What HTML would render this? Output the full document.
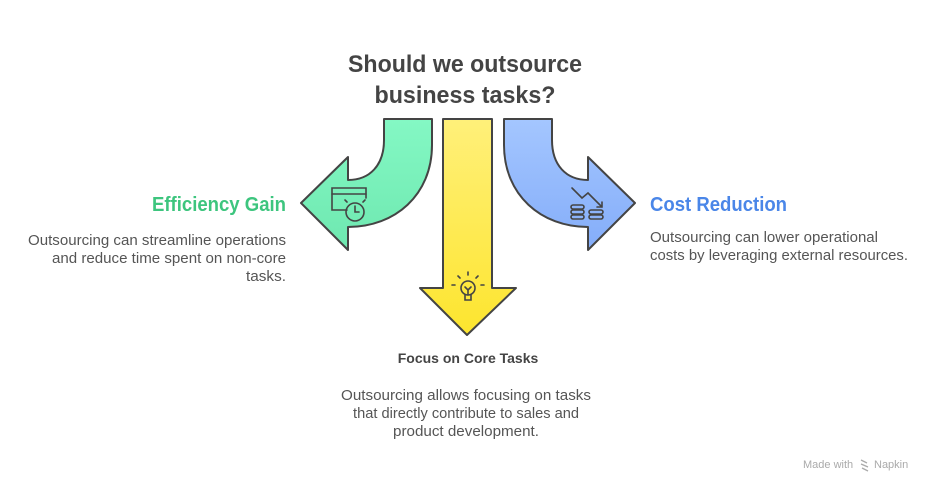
<!DOCTYPE html>
<html><head><meta charset="utf-8"><style>
html,body{margin:0;padding:0;background:#fff;}
svg{display:block;font-family:"Liberation Sans",sans-serif;}
</style></head><body>
<svg width="936" height="492" viewBox="0 0 936 492" xmlns="http://www.w3.org/2000/svg">
<defs>
<linearGradient id="g" x1="0" y1="0" x2="0" y2="1"><stop offset="0" stop-color="#84f8c4"/><stop offset="1" stop-color="#6ee8b0"/></linearGradient>
<linearGradient id="y" x1="0" y1="0" x2="0" y2="1"><stop offset="0" stop-color="#fff07a"/><stop offset="1" stop-color="#fde52e"/></linearGradient>
<linearGradient id="b" x1="0" y1="0" x2="0" y2="1"><stop offset="0" stop-color="#a4c6ff"/><stop offset="1" stop-color="#84adf9"/></linearGradient>
</defs>
<g stroke="#444" stroke-width="2" stroke-linejoin="round">
<path fill="url(#g)" d="M384,119 L432,119 L432,145 C432,195 395,227 348,227 L348,250 L301,203 L348,157 L348,180 C370,180 384,165 384,140 Z"/>
<path fill="url(#y)" d="M443,119 L492,119 L492,288 L516,288 L467,335 L420,288 L443,288 Z"/>
<path fill="url(#b)" d="M552,119 L504,119 L504,145 C504,195 541,227 588,227 L588,250 L635,203 L588,157 L588,180 C566,180 552,165 552,140 Z"/>
</g>
<g fill="none" stroke="#444" stroke-width="1.6" stroke-linecap="round">
<!-- clock window icon -->
<path d="M347,210 h-15 v-22 h34 v10"/><line x1="332" y1="194" x2="366" y2="194"/>
<circle cx="355" cy="212" r="9"/><path d="M355,206 v6 h4"/>
<line x1="345" y1="200" x2="347" y2="202"/><line x1="365" y1="200" x2="363" y2="202"/>
<!-- bulb -->
<circle cx="468" cy="288" r="7"/><path d="M465,295 v5 h6 v-5 M465,300 h6"/><path d="M465,287 l3,3 l3,-3 M468,290 v5"/>
<line x1="468" y1="272" x2="468" y2="275"/><line x1="458" y1="276" x2="460" y2="278"/><line x1="478" y1="276" x2="476" y2="278"/><line x1="452" y1="285" x2="455" y2="285"/><line x1="481" y1="285" x2="484" y2="285"/>
<!-- coins -->
<path d="M572,188 l10,10 l6,-5 l14,14 M602,202 v5 h-5"/>
<rect x="571" y="205" width="13" height="4" rx="2"/><rect x="571" y="210" width="13" height="4" rx="2"/><rect x="571" y="215" width="13" height="4" rx="2"/>
<rect x="589" y="210" width="14" height="4" rx="2"/><rect x="589" y="215" width="14" height="4" rx="2"/>
</g>
<g fill="#444" font-weight="bold" font-size="24" text-anchor="middle">
<text x="465" y="72" textLength="234" lengthAdjust="spacingAndGlyphs">Should we outsource</text>
<text x="465" y="103" textLength="181" lengthAdjust="spacingAndGlyphs">business tasks?</text>
</g>
<text x="286" y="211" fill="#3dc57e" font-weight="bold" font-size="20" text-anchor="end" textLength="134" lengthAdjust="spacingAndGlyphs">Efficiency Gain</text>
<text x="650" y="211" fill="#4a86e8" font-weight="bold" font-size="20" textLength="137" lengthAdjust="spacingAndGlyphs">Cost Reduction</text>
<text x="468" y="363" fill="#444" font-weight="bold" font-size="14" text-anchor="middle">Focus on Core Tasks</text>
<g fill="#555" font-size="15">
<text x="286" y="245" text-anchor="end" textLength="258" lengthAdjust="spacingAndGlyphs">Outsourcing can streamline operations</text>
<text x="286" y="263" text-anchor="end" textLength="234" lengthAdjust="spacingAndGlyphs">and reduce time spent on non-core</text>
<text x="286" y="281" text-anchor="end" textLength="40" lengthAdjust="spacingAndGlyphs">tasks.</text>
<text x="650" y="242" textLength="228" lengthAdjust="spacingAndGlyphs">Outsourcing can lower operational</text>
<text x="650" y="260" textLength="258" lengthAdjust="spacingAndGlyphs">costs by leveraging external resources.</text>
<text x="466" y="400" text-anchor="middle" textLength="250" lengthAdjust="spacingAndGlyphs">Outsourcing allows focusing on tasks</text>
<text x="466" y="418" text-anchor="middle" textLength="226" lengthAdjust="spacingAndGlyphs">that directly contribute to sales and</text>
<text x="466" y="436" text-anchor="middle" textLength="146" lengthAdjust="spacingAndGlyphs">product development.</text>
</g>
<text x="803" y="468" fill="#aaa" font-size="11">Made with</text>
<path d="M861,460 l6,3 M861,464 l7,3 M862,468 l6,3" stroke="#aaa" stroke-width="1.3"/>
<text x="874" y="468" fill="#aaa" font-size="11">Napkin</text>
</svg>
</body></html>
